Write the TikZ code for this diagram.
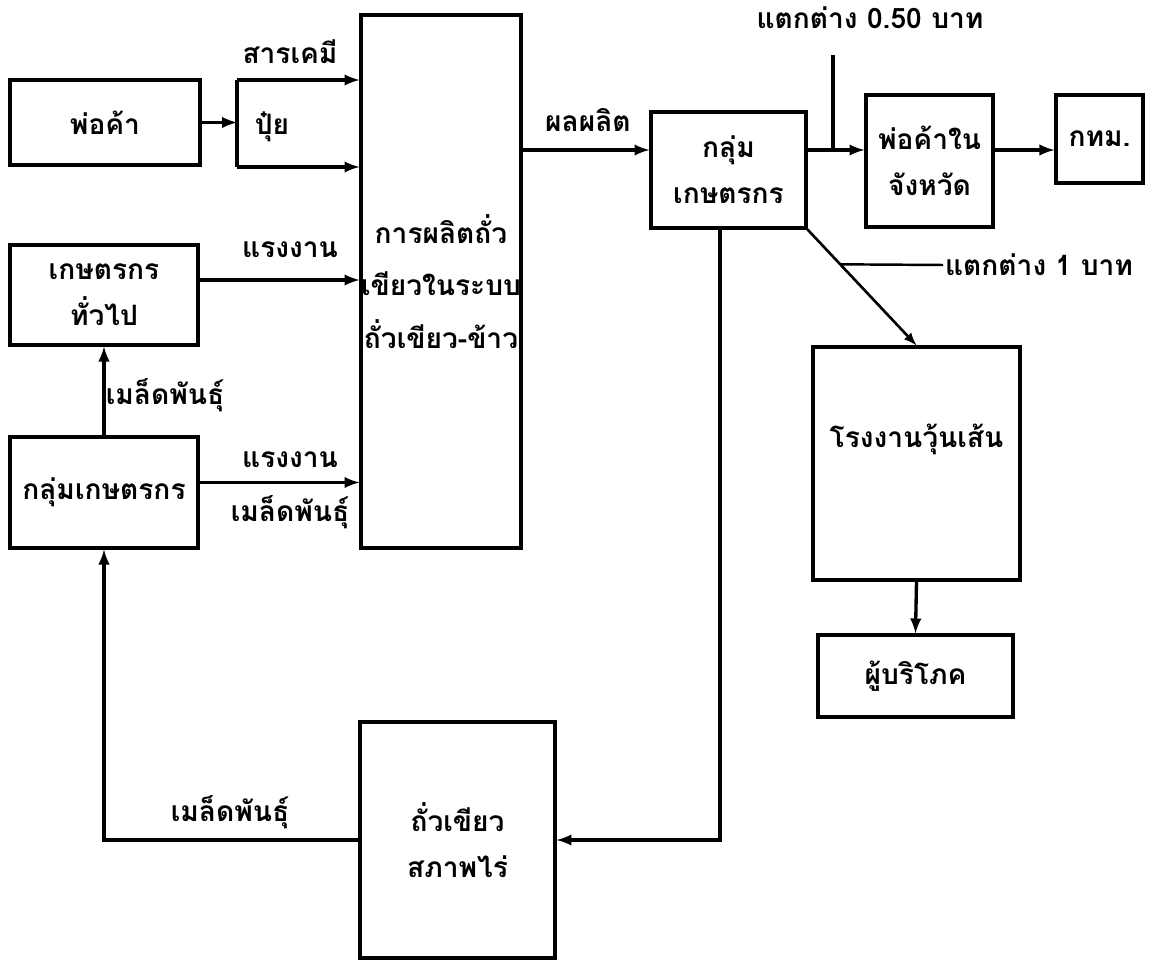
\documentclass[tikz,border=0pt]{standalone}
\usepackage{fontspec}
\setmainfont{Loma}[Script=Thai]
\usepackage{tikz}
\usetikzlibrary{calc, positioning}

\tikzset{
    box/.style={draw, line width=1.8pt, align=center, inner sep=0pt},
    lbl/.style={inner sep=1pt},
    flow/.style={->, line width=1.9pt}
}

\begin{document}
\begin{tikzpicture}[>=latex, x=0.02cm, y=-0.02cm, font=\bfseries\fontsize{16}{26}\selectfont]
    \useasboundingbox (0,0) rectangle (1161,962);
    % 1. Các khối
    \node[box, minimum width=3.8cm, minimum height=1.7cm] (trader) at (105,122.5) {พ่อค้า};
    \node[box, minimum width=3.16cm, minimum height=10.66cm,
          font=\bfseries\fontsize{16}{30}\selectfont] (prod) at (441,281.5)
          {การผลิตถั่ว\\เขียวในระบบ\\ถั่วเขียว-ข้าว};
    \node[box, minimum width=3.76cm, minimum height=2cm] (farmers) at (104,295) {เกษตรกร\\ทั่วไป};
    \node[box, minimum width=3.76cm, minimum height=2.22cm] (lgroup) at (104,492.5) {กลุ่มเกษตรกร};
    \node[box, minimum width=3.1cm, minimum height=2.32cm] (rgroup) at (728.5,170) {กลุ่ม\\เกษตรกร};
    \node[box, minimum width=2.54cm, minimum height=2.64cm] (local) at (929.5,161) {พ่อค้าใน\\จังหวัด};
    \node[box, minimum width=1.74cm, minimum height=1.76cm] (bkk) at (1099.5,139) {กทม.};
    \node[box, minimum width=4.14cm, minimum height=4.66cm, text depth=1.1cm] (factory) at (916.5,463.5) {โรงงานวุ้นเส้น};
    \node[box, minimum width=3.9cm, minimum height=1.64cm] (consumer) at (915.5,676) {ผู้บริโภค};
    \node[box, minimum width=3.9cm, minimum height=4.72cm] (field) at (457.5,840) {ถั่วเขียว\\สภาพไร่};

    % 2. ปุ๋ย
    \coordinate (ftop) at (237,80);
    \coordinate (fbot) at (237,167);
    \node (fert) at (272,127) {ปุ๋ย};
    \draw[line width=1.8pt] (fbot) -- (ftop);
    \draw[flow] (ftop) -- (ftop -| prod.west);
    \draw[flow] (fbot) -- (fbot -| prod.west);
    \draw[flow] (trader.east) -- (ftop |- trader.east);
    \node[lbl] (chem) at (290,52) {สารเคมี};

    % 3. Mũi tên bên trái
    \draw[flow] ([yshift=3mm]farmers.east) -- ([yshift=3mm]farmers.east -| prod.west);
    \node[lbl] (labor1) at (290,250) {แรงงาน};
    \draw[flow] (lgroup.north) -- (farmers.south);
    \node[lbl] (seed1) at (165,395) {เมล็ดพันธุ์};
    \draw[flow] ([yshift=2mm]lgroup.east) -- ([yshift=2mm]lgroup.east -| prod.west);
    \node[lbl] (labor2) at (290,460) {แรงงาน};
    \node[lbl] (seed2) at (290,512) {เมล็ดพันธุ์};

    % 4. Mũi tên bên phải
    \coordinate (rin) at ([yshift=4mm]rgroup.west);
    \draw[flow] (prod.east |- rin) -- (rin);
    \node[lbl, anchor=south] (yield) at (588,134) {ผลผลิต};
    \draw[flow] (rgroup.east |- rin) -- (local.west |- rin);
    \draw[flow] (local.east |- rin) -- (bkk.west |- rin);
    \coordinate (tick) at (833,55);
    \draw[line width=1.8pt] (tick) -- (tick |- rin);
    \node[lbl] (diff50) at (870,18) {แตกต่าง 0.50 บาท};
    \draw[->, line width=1.5pt] (rgroup.south east) -- coordinate[pos=0.3] (dmark) (factory.north);
    \node[lbl, anchor=west] (diff1) at (943,265) {แตกต่าง 1 บาท};
    \draw[line width=1.4pt] (dmark) -- (diff1.west);
    \draw[flow] (factory.south) -- (consumer.north);

    % 5. Vòng dưới
    \draw[flow] ([xshift=-1.7mm]rgroup.south) |- (field.east);
    \draw[flow] (field.west) -| (lgroup.south);
    \node[lbl] (seed3) at (230,812) {เมล็ดพันธุ์};
\end{tikzpicture}
\end{document}
